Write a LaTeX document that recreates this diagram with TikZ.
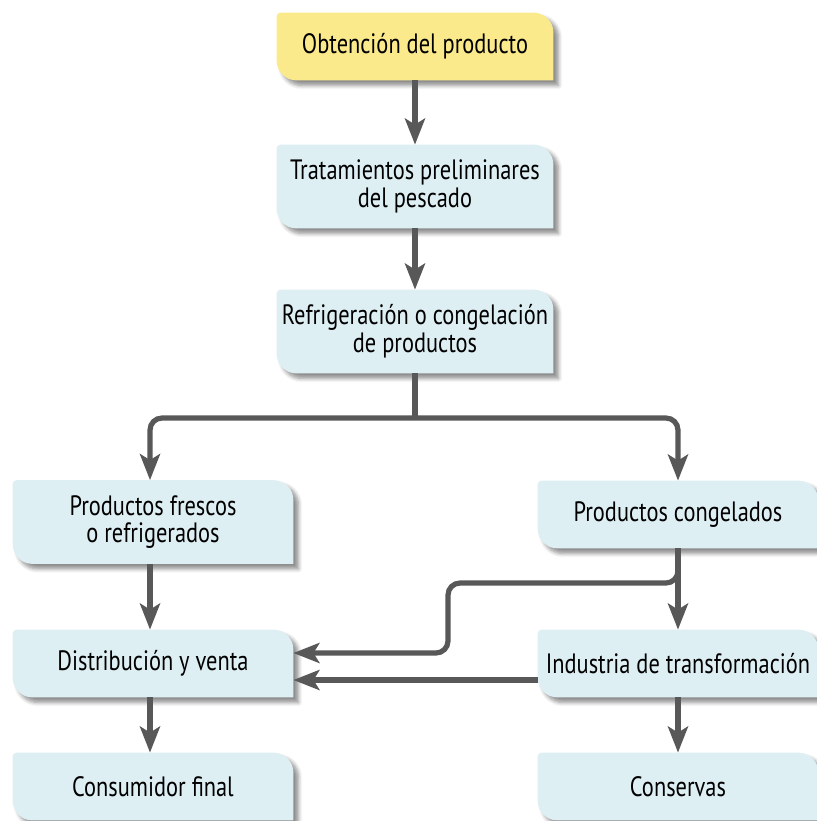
\documentclass[tikz,border=0pt]{standalone}
\usepackage{fontspec}
\setmainfont{PT Sans}[FakeStretch=0.8]
\usepackage{tikz}
\usetikzlibrary{arrows.meta}
\usetikzlibrary{positioning}
\usetikzlibrary{backgrounds}
\usetikzlibrary{shadows.blur}
\definecolor{amarillo}{RGB}{250,234,140}
\definecolor{celeste}{RGB}{222,239,244}
\definecolor{gris}{RGB}{88,88,88}

\begin{document}
\begin{tikzpicture}[x=0.5pt, y=-0.5pt, caja/.style={minimum width=138pt, minimum height=33.5pt, align=center, inner sep=0pt, font=\fontsize{14}{13.8}\selectfont}, cajaalta/.style={caja, minimum height=41.5pt}, linea/.style={draw=gris, line width=2.6pt}, flecha/.style={linea, -{Stealth[width=10pt,length=13pt,inset=3pt]}}]
	\useasboundingbox (0,0) rectangle (816,821);
	\node[caja] (obt) at (415,46.5) {Obtención del producto};
	\node[cajaalta] (trat) at (415,186.5) {Tratamientos preliminares\\del pescado};
	\node[cajaalta] (refr) at (415,331.5) {Refrigeración o congelación\\de productos};
	\node[cajaalta, minimum width=140pt] (fres) at (153,522) {Productos frescos\\o refrigerados};
	\node[caja, minimum width=140pt] (cong) at (678,514.5) {Productos congelados};
	\node[caja, minimum width=140pt] (dist) at (153,663.5) {Distribución y venta};
	\node[caja, minimum width=140pt] (ind) at (678,663.5) {Industria de transformación};
	\node[caja, minimum width=140pt] (consf) at (153,786.5) {Consumidor final};
	\node[caja, minimum width=140pt] (cons) at (678,786.5) {Conservas};
	\begin{scope}[on background layer]
		\foreach \n/\c in {obt/amarillo, trat/celeste, refr/celeste, fres/celeste, cong/celeste, dist/celeste, ind/celeste, consf/celeste, cons/celeste} {
			\fill[\c, blur shadow={shadow xshift=2.5pt, shadow yshift=-2.5pt, shadow blur steps=6, shadow opacity=45}] (\n.south east) -- ([xshift=10pt]\n.south west) arc[start angle=270, end angle=180, radius=10pt] -- ([yshift=-2pt]\n.north west) arc[start angle=180, end angle=90, radius=2pt] -- ([xshift=-10pt]\n.north east) arc[start angle=90, end angle=0, radius=10pt] -- cycle;
		}
	\end{scope}
	\coordinate (rama) at (415,418);
	\coordinate (codo) at (448,583);
	\draw[flecha] (obt) -- (trat);
	\draw[flecha] (trat) -- (refr);
	\draw[linea] (refr.south) -- (rama);
	\draw[flecha, rounded corners=6pt] (rama) -| ([xshift=-1.5pt]fres.north);
	\draw[flecha, rounded corners=6pt] (rama) -| (cong.north);
	\draw[flecha] ([xshift=-1.5pt]fres.south) -- ([xshift=-1.5pt]dist.north);
	\draw[flecha] (cong) -- (ind);
	\draw[flecha, rounded corners=6pt] (cong.south) |- (codo) |- ([yshift=5.25pt]dist.east);
	\draw[flecha] ([yshift=-8.25pt]ind.west) -- ([yshift=-8.25pt]dist.east);
	\draw[flecha] ([xshift=-1.5pt]dist.south) -- ([xshift=-1.5pt]consf.north);
	\draw[flecha] (ind) -- (cons);
\end{tikzpicture}
\end{document}
